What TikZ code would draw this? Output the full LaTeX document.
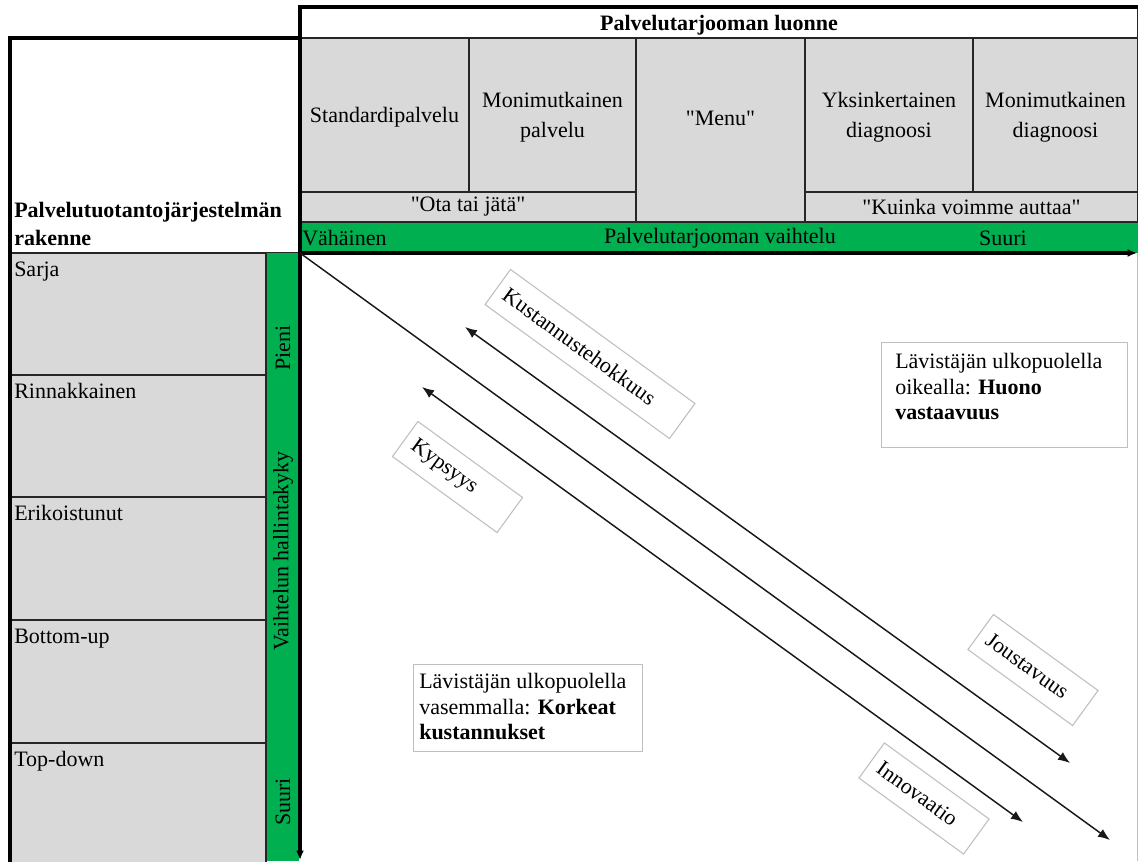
\documentclass[tikz,border=0pt]{standalone}
\usepackage{fontspec}
\setmainfont{Liberation Serif}[Ligatures=TeXOff]
\usetikzlibrary{arrows.meta}
\definecolor{cellgray}{HTML}{D9D9D9}
\definecolor{bargreen}{HTML}{00B050}
\definecolor{boxgray}{HTML}{BFBFBF}
\begin{document}
\begin{tikzpicture}[x=0.75pt,y=-0.75pt,
  font=\fontsize{16.5}{19}\selectfont,
  cell/.style={fill=cellgray,draw=black!85,line width=0.9pt},
  plain/.style={draw=black!85,line width=0.9pt},
  heavy/.style={line width=2.3pt,line cap=rect},
  lab/.style={inner sep=0pt},
  hdr/.style={inner sep=0pt,align=center,font=\fontsize{16.5}{22.5}\selectfont},
  rowlab/.style={inner sep=0pt,anchor=base west},
  vlab/.style={inner sep=0pt,rotate=90},
  tagbox/.style={draw=boxgray,line width=0.8pt,fill=white,rotate=-36,
    minimum height=32.5pt,inner xsep=7pt,inner ysep=0pt,align=left},
  notebox/.style={draw=boxgray,line width=0.9pt,fill=white,anchor=north west,inner sep=0pt},
  notetext/.style={inner sep=0pt,anchor=north west,align=left,font=\fontsize{16.5}{19.1}\selectfont},
  diag/.style={line width=1.1pt,draw=black!90},
  tip/.style={-{Latex[length=9pt,width=7pt]}},
  bothtips/.style={{Latex[length=9pt,width=7pt]}-{Latex[length=9pt,width=7pt]}}
]
\useasboundingbox (0,0) rectangle (1138,861);
\fill[white] (0,0) rectangle (1138,861);

% ---- column header block ----
\draw[plain,fill=white] (300,7) rectangle (1138,38);
\draw[cell] (300,38) rectangle (469,192);
\draw[cell] (469,38) rectangle (636,192);
\draw[cell] (636,38) rectangle (805,222);
\draw[cell] (805,38) rectangle (973,192);
\draw[cell] (973,38) rectangle (1138,192);
\draw[cell] (300,192) rectangle (636,222);
\draw[cell] (805,192) rectangle (1138,222);
\fill[bargreen] (300,222) rectangle (1138,253);
\draw[plain] (300,222) -- (1138,222);

% ---- row header block ----
\draw[plain,fill=white] (10,38) rectangle (300,253);
\draw[cell] (10,253) rectangle (266,375);
\draw[cell] (10,375) rectangle (266,497);
\draw[cell] (10,497) rectangle (266,620);
\draw[cell] (10,620) rectangle (266,743);
\draw[cell] (10,743) rectangle (266,865);
\fill[bargreen] (266,253) rectangle (299,861);
\draw[plain] (266,253) -- (266,861);
\draw[boxgray,line width=0.6pt] (1137,253) -- (1137,861);

% ---- heavy frame lines and axes ----
\draw[heavy] (300,7) -- (1138,7);
\draw[heavy] (10,38) -- (300,38);
\draw[heavy] (10,38) -- (10,861);
\coordinate (corner) at (300,253);
\coordinate (xend) at (1137,253);
\coordinate (ytop) at (300,7);
\coordinate (yend) at (300,860);
\draw[line width=2.3pt,-{Latex[length=7pt,width=6pt]}] (ytop) -- (yend);
\draw[line width=2.3pt,-{Latex[length=7pt,width=6pt]}] (corner) -- (xend);

% ---- header texts ----
\node[lab,font=\fontsize{16.5}{19}\bfseries] (title) at (719,25) {Palvelutarjooman luonne};
\node[hdr] (std) at (384.5,117) {Standardipalvelu};
\node[hdr] (mpal) at (552.5,117) {Monimutkainen\\palvelu};
\node[hdr] (menu) at (720.5,118) {"Menu"};
\node[hdr] (ysd) at (889,117) {Yksinkertainen\\diagnoosi};
\node[hdr] (mdg) at (1055.5,117) {Monimutkainen\\diagnoosi};
\node[lab] (ota) at (468,207) {"Ota tai jätä"};
\node[lab] (kva) at (971.5,207) {"Kuinka voimme auttaa"};
\node[lab,anchor=west] (vah) at (302,238) {Vähäinen};
\node[lab] (pvaiht) at (720,238) {Palvelutarjooman vaihtelu};
\node[lab] (suuri1) at (1003,238) {Suuri};

% ---- row header texts ----
\node[rowlab,font=\fontsize{16.5}{19}\bfseries] (pjr1) at (14,217) {Palvelutuotantojärjestelmän};
\node[rowlab,font=\fontsize{16.5}{19}\bfseries] (pjr2) at (14,245) {rakenne};
\node[rowlab] (sarja) at (14,276) {Sarja};
\node[rowlab] (rinn) at (14,398) {Rinnakkainen};
\node[rowlab] (erik) at (14,520) {Erikoistunut};
\node[rowlab] (bup) at (14,643) {Bottom-up};
\node[rowlab] (tdn) at (14,766) {Top-down};
\node[vlab] (pieni) at (283,348) {Pieni};
\node[vlab] (vhk) at (283,551) {Vaihtelun hallintakyky};
\node[vlab] (suuri2) at (283,802) {Suuri};

% ---- diagonal and its companion arrows ----
\coordinate (dend) at (1110,840);
\draw[diag,tip] (corner) -- (dend);
\coordinate (a1) at (465,327);
\coordinate (a2) at (1070,763);
\draw[diag,bothtips] (a1) -- (a2);
\coordinate (b1) at (422,387);
\coordinate (b2) at (1023,822);
\draw[diag,bothtips] (b1) -- (b2);

% ---- slanted labels ----
\node[tagbox,text width=157pt] (kust) at (590,354) {Kustannustehokkuus};
\node[tagbox,text width=83pt] (kyps) at (457.5,477) {Kypsyys};
\node[tagbox,text width=83pt] (jous) at (1033,670) {Joustavuus};
\node[tagbox,text width=83pt] (innov) at (924,798.5) {Innovaatio};

% ---- notes ----
\node[notebox,minimum width=184.5pt,minimum height=78.75pt] (rbox) at (881,342) {};
\node[notetext] (rtext) at (895,353) {Lävistäjän ulkopuolella\\oikealla: \textbf{Huono}\\\textbf{vastaavuus}};
\node[notebox,minimum width=171.75pt,minimum height=65.25pt] (lbox) at (413,664) {};
\node[notetext] (ltext) at (419,673) {Lävistäjän ulkopuolella\\vasemmalla: \textbf{Korkeat}\\\textbf{kustannukset}};
\end{tikzpicture}
\end{document}
